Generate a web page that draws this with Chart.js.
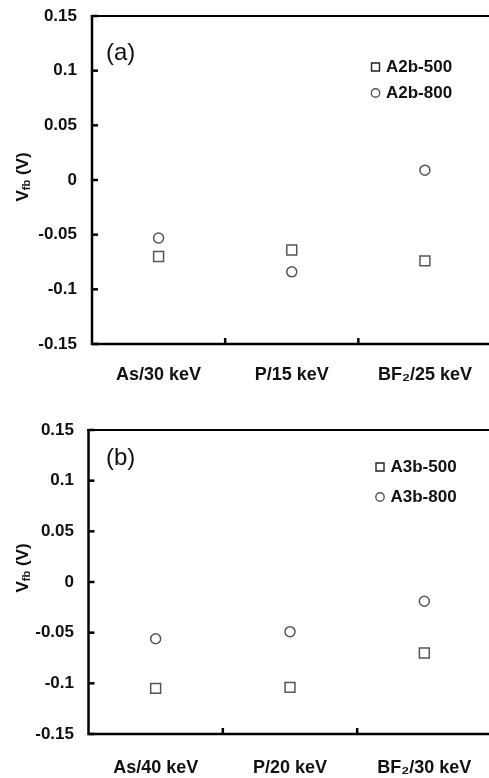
<!DOCTYPE html>
<html>
<head>
<meta charset="utf-8">
<script src="https://cdn.jsdelivr.net/npm/chart.js@4/dist/chart.umd.min.js"></script>
<style>
  html, body { margin: 0; padding: 0; background: #fff; overflow: hidden; width: 489px; height: 778px; }
  canvas { position: absolute; left: 0; }
  #chartA { top: 0; }
  #chartB { top: 390px; }
</style>
</head>
<body>
<canvas id="chartA" width="500" height="390"></canvas>
<canvas id="chartB" width="500" height="388"></canvas>
<script>
const yTicks = [-0.15, -0.1, -0.05, 0, 0.05, 0.1, 0.15];

// panel (a)
const implantsA = ['As/30 keV', 'P/15 keV', 'BF\u2082/25 keV'];
const a2b500 = [-0.070, -0.064, -0.074];
const a2b800 = [-0.053, -0.084, 0.009];

// panel (b)
const implantsB = ['As/40 keV', 'P/20 keV', 'BF\u2082/30 keV'];
const a3b500 = [-0.105, -0.104, -0.070];
const a3b800 = [-0.056, -0.049, -0.019];

const FONT = "'Liberation Sans', Arial, Helvetica, sans-serif";
const INK = '#111';

// axes frame, inward ticks, legend, panel tag and y title
const axisFrame = {
  id: 'axisFrame',
  afterDraw(chart, args, o) {
    const { ctx, chartArea: a, scales: { x, y } } = chart;
    const w = chart.width;
    ctx.save();
    ctx.strokeStyle = '#000';
    ctx.lineWidth = 2.5;

    y.ticks.forEach(t => {
      const py = y.getPixelForValue(t.value);
      ctx.beginPath();
      ctx.moveTo(a.left, py);
      ctx.lineTo(a.left + 6, py);
      ctx.stroke();
    });
    for (let i = 1; i < x.ticks.length; i++) {
      const px = (x.getPixelForValue(i - 1) + x.getPixelForValue(i)) / 2;
      ctx.beginPath();
      ctx.moveTo(px, a.bottom);
      ctx.lineTo(px, a.bottom - 6);
      ctx.stroke();
    }

    ctx.beginPath();
    ctx.moveTo(a.left, a.bottom);
    ctx.lineTo(w, a.bottom);
    ctx.moveTo(a.left, a.bottom + 1.25);
    ctx.lineTo(a.left, a.top - 1);
    ctx.stroke();
    ctx.lineWidth = 2;
    ctx.beginPath();
    ctx.moveTo(a.left - 1.25, a.top);
    ctx.lineTo(w, a.top);
    ctx.stroke();

    // panel tag
    ctx.fillStyle = INK;
    ctx.font = `24px ${FONT}`;
    ctx.textBaseline = 'middle';
    ctx.textAlign = 'left';
    ctx.fillText(o.tag, o.tagX, o.tagY);

    // legend
    ctx.font = `bold 17px ${FONT}`;
    chart.data.datasets.forEach((ds, i) => {
      const ly = o.legendY + i * o.legendGap;
      ctx.strokeStyle = i === 0 ? '#222' : ds.borderColor;
      ctx.lineWidth = 1.4;
      ctx.beginPath();
      if (ds.pointStyle === 'rect') {
        ctx.rect(o.legendX - 4, ly - 4, 8, 8);
      } else {
        ctx.arc(o.legendX, ly, 4.2, 0, Math.PI * 2);
      }
      ctx.stroke();
      ctx.fillStyle = INK;
      ctx.fillText(ds.label, o.legendX + 10.5, ly);
    });

    // y title: V_fb (V)
    ctx.translate(o.titleX, o.titleY);
    ctx.rotate(-Math.PI / 2);
    const big = `bold 17px ${FONT}`, small = `bold 11px ${FONT}`;
    ctx.font = big;
    const wV = ctx.measureText('V').width;
    const wR = ctx.measureText(' (V)').width;
    ctx.font = small;
    const wS = ctx.measureText('fb').width;
    let tx = -(wV + wS + wR) / 2;
    ctx.font = big;
    ctx.fillText('V', tx, 0);
    tx += wV;
    ctx.font = small;
    ctx.fillText('fb', tx, 4);
    tx += wS;
    ctx.font = big;
    ctx.fillText(' (V)', tx, 0);

    ctx.restore();
  }
};

function series(label, data, style) {
  return {
    label,
    data,
    showLine: false,
    pointStyle: style,
    pointRadius: style === 'rect' ? 7 : 5,
    pointBorderWidth: 1.5,
    borderColor: '#555',
    pointBorderColor: '#555',
    pointBackgroundColor: 'rgba(255,255,255,0)'
  };
}

function panel(canvasId, labels, datasets, p) {
  const ctx = document.getElementById(canvasId);
  return new Chart(ctx, {
    type: 'line',
    data: { labels, datasets },
    plugins: [axisFrame],
    options: {
      responsive: false,
      animation: false,
      events: [],
      layout: { padding: { top: p.top, right: ctx.width - p.right, left: 0, bottom: 0 } },
      scales: {
        x: {
          type: 'category',
          offset: true,
          grid: { display: false, drawTicks: false },
          border: { display: false },
          afterFit: s => { s.height = p.xAxisH; s.paddingLeft = 0; s.paddingRight = 0; },
          ticks: {
            padding: p.xPad,
            color: INK,
            maxRotation: 0,
            autoSkip: false,
            font: { family: FONT, size: 18, weight: 'bold' }
          }
        },
        y: {
          min: -0.15,
          max: 0.15,
          afterBuildTicks: s => { s.ticks = yTicks.map(v => ({ value: v })); },
          // keep the label padding from pushing the plot area down
          afterFit: s => { s.width = p.left; s.paddingTop = 0; s.paddingBottom = 0; },
          grid: { display: false, drawTicks: false },
          border: { display: false },
          ticks: {
            padding: p.yPad,
            color: INK,
            font: { family: FONT, size: 17, weight: 'bold' },
            callback: v => String(+v.toFixed(2))
          }
        }
      },
      plugins: {
        legend: { display: false },
        tooltip: { enabled: false },
        axisFrame: p.frame
      }
    }
  });
}

panel('chartA', implantsA, [
  series('A2b-500', a2b500, 'rect'),
  series('A2b-800', a2b800, 'circle')
], {
  top: 16, left: 92, right: 494, xAxisH: 46, xPad: 20, yPad: 15,
  frame: { tag: '(a)', tagX: 106, tagY: 53, legendX: 375.5, legendY: 67, legendGap: 26, titleX: 23, titleY: 177 }
});

panel('chartB', implantsB, [
  series('A3b-500', a3b500, 'rect'),
  series('A3b-800', a3b800, 'circle')
], {
  top: 40, left: 88.5, right: 493, xAxisH: 44, xPad: 23, yPad: 14.5,
  frame: { tag: '(b)', tagX: 106, tagY: 68, legendX: 380, legendY: 77, legendGap: 30, titleX: 23, titleY: 178 }
});
</script>
</body>
</html>
